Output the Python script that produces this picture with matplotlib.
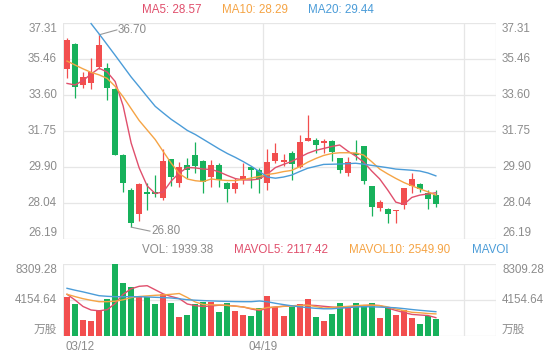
import numpy as np
import matplotlib
matplotlib.use('Agg')
import matplotlib.pyplot as plt
from matplotlib.transforms import Bbox, blended_transform_factory

plt.rcParams['font.family'] = ['Liberation Sans', 'Noto Sans CJK SC', 'DejaVu Sans']

# ---------------- data ----------------
opens = [34.93, 36.23, 34.12, 34.24, 35.07, 34.98, 33.91, 30.51, 28.71, 27.48,
         28.59, 28.63, 28.29, 30.29, 29.06, 30.00, 30.51, 30.22, 29.40, 30.00,
         29.06, 28.75, 29.23, 29.88, 29.72, 29.06, 30.22, 30.17, 30.63, 29.90,
         31.25, 31.29, 31.11, 31.24, 30.34, 29.60, 30.60, 30.98, 28.92, 27.81,
         27.75, 27.61, 27.94, 28.92, 29.02, 28.57, 28.46]
closes = [36.43, 33.99, 34.51, 34.79, 36.18, 33.94, 30.54, 29.05, 27.00, 29.02,
          28.51, 28.51, 30.19, 29.37, 29.91, 29.74, 29.95, 29.14, 30.00, 29.23,
          28.75, 29.06, 29.43, 29.74, 29.28, 30.17, 30.60, 30.26, 30.05, 31.18,
          31.37, 31.03, 31.24, 30.68, 29.72, 30.14, 30.51, 29.20, 27.82, 28.11,
          27.46, 27.68, 28.82, 29.26, 28.76, 28.23, 27.97]
highs = [36.54, 36.26, 34.79, 35.49, 36.70, 35.23, 33.96, 30.55, 28.80, 29.05,
         29.07, 29.48, 30.80, 30.31, 30.17, 30.34, 31.20, 30.26, 30.26, 30.12,
         29.12, 29.31, 30.09, 29.90, 29.83, 30.81, 31.12, 30.57, 30.72, 31.54,
         32.57, 31.39, 31.32, 31.29, 30.36, 30.43, 31.29, 31.00, 28.92, 28.21,
         27.79, 27.68, 28.82, 29.57, 29.09, 28.69, 28.71]
lows = [34.48, 33.45, 33.96, 33.91, 34.94, 33.35, 30.51, 28.63, 26.80, 27.12,
        27.68, 28.35, 28.20, 28.92, 28.85, 29.31, 29.57, 28.54, 28.88, 28.88,
        28.11, 28.54, 29.02, 28.80, 28.54, 28.71, 30.09, 29.95, 29.23, 29.85,
        31.25, 30.60, 30.62, 30.23, 29.59, 29.43, 30.26, 29.02, 27.35, 27.63,
        26.99, 27.03, 27.73, 28.54, 28.61, 27.72, 27.84]
ma5 = [34.20, 34.12, 34.35, 34.68, 34.98, 34.79, 34.30, 33.04, 31.13, 29.85,
       28.92, 28.53, 28.61, 29.18, 29.59, 29.87, 29.85, 29.79, 29.77, 29.64,
       29.46, 29.30, 29.23, 29.23, 29.28, 29.54, 29.87, 30.03, 30.18, 30.39,
       30.60, 30.75, 30.85, 30.95, 31.03, 30.72, 30.46, 30.15, 29.69, 29.28,
       28.71, 28.09, 27.97, 28.33, 28.45, 28.51, 28.57]
ma10 = [35.35, 35.15, 34.95, 34.77, 34.64, 34.46, 34.05, 33.51, 32.90, 32.29,
        31.80, 31.31, 30.69, 30.09, 29.56, 29.28, 29.19, 29.15, 29.28, 29.23,
        29.20, 29.20, 29.25, 29.33, 29.41, 29.51, 29.57, 29.66, 29.72, 29.91,
        30.14, 30.33, 30.49, 30.59, 30.63, 30.63, 30.62, 30.51, 30.17, 29.79,
        29.54, 29.31, 29.10, 28.93, 28.77, 28.62, 28.45]
ma20 = [np.nan, np.nan, np.nan, 37.28, 36.75, 36.20, 35.65, 35.09, 34.53, 34.03,
        33.52, 33.02, 32.68, 32.35, 32.07, 31.78, 31.57, 31.32, 31.07, 30.82,
        30.59, 30.39, 30.17, 29.93, 29.66, 29.38, 29.32, 29.38, 29.48, 29.66,
        29.83, 29.93, 30.03, 30.04, 30.05, 30.07, 30.09, 30.04, 29.98, 29.92,
        29.86, 29.79, 29.76, 29.73, 29.69, 29.59, 29.44]
volumes = [4536, 3693, 1847, 1731, 3001, 4270, 8309.28, 6152, 5690, 4616,
           4536, 3693, 4847, 3770, 2154, 2424, 3655, 3963, 3963, 2808,
           3770, 2885, 2424, 2270, 3270, 4616, 3385, 2308, 3385, 3693,
           4270, 2154, 1770, 2539, 3770, 3308, 3770, 3578, 3770, 2039,
           3193, 2424, 3001, 2116, 1347, 2347, 1939.38]
mavol5 = [4813, 4155, 3405, 3001, 2908, 3035, 3751, 4813, 5447, 5736,
          5805, 5332, 4859, 4559, 4316, 3693, 3508, 3405, 3462, 3555,
          3532, 3451, 3347, 3116, 2943, 3231, 3347, 3439, 3485, 3532,
          3566, 3520, 3428, 3347, 3289, 3301, 3428, 3508, 3555, 3508,
          3231, 2954, 2712, 2493, 2424, 2366, 2117.42]
mavol10 = [4813, 4547, 4305, 4120, 3959, 3959, 4016, 4178, 4432, 4559,
           4628, 4697, 4743, 4813, 4905, 4443, 3924, 3635, 3601, 3578,
           3532, 3439, 3347, 3174, 3058, 3289, 3347, 3416, 3474, 3508,
           3566, 3405, 3220, 3289, 3358, 3416, 3497, 3555, 3566, 3508,
           3358, 3116, 2931, 2735, 2680, 2600, 2549.90]
mavol20 = [5505, 5286, 5090, 4870, 4651, 4582, 4536, 4536, 4536, 4536,
           4501, 4466, 4432, 4386, 4293, 4189, 4132, 4085, 4051, 4016,
           3993, 3970, 3959, 3959, 4039, 3947, 3774, 3624, 3485, 3370,
           3278, 3197, 3139, 3139, 3208, 3278, 3347, 3381, 3370, 3335,
           3301, 3255, 3162, 3058, 2966, 2885, 2804]
price_ticks = [26.19, 28.04, 29.90, 31.75, 33.60, 35.46, 37.31]
vol_ticks = [0, 4154.64, 8309.28]
vol_tick_labels = ['万股', '4154.64', '8309.28']
date_labels = ['03/12', '04/19']
date_positions = [0, 25]
n_slots = 54
legend_ma = ['MA5: 28.57', 'MA10: 28.29', 'MA20: 29.44']
legend_vol = ['VOL: 1939.38', 'MAVOL5: 2117.42', 'MAVOL10: 2549.90', 'MAVOL20: 2804.11']

# ---------------- style ----------------
RED = '#f24e4e'
GREEN = '#17b15b'
C_MA5 = '#e04f6c'
C_MA10 = '#f5a445'
C_MA20 = '#4b9cd8'
GRID = '#e6e6e6'
TXT = '#8c8c8c'
FS = 8.4

W, H = 560, 360
fig = plt.figure(figsize=(W / 100, H / 100), dpi=100)
L, R = 63, 496


def rect(top, bottom):
    return [L / W, 1 - bottom / H, (R - L) / W, (bottom - top) / H]


ax = fig.add_axes(rect(23, 239))
axv = fig.add_axes(rect(264, 336))

x = np.arange(len(closes))
o = np.array(opens); c = np.array(closes)
up = c >= o
cols = [RED if u else GREEN for u in up]

for a in (ax, axv):
    a.set_xlim(-0.5, n_slots - 0.5)
    a.set_axis_off()
    for b in (-0.5, 24.5, 49.5, n_slots - 0.5):
        a.axvline(b, color=GRID, lw=0.9, zorder=0)

ax.set_ylim(price_ticks[0], price_ticks[-1])
axv.set_ylim(vol_ticks[0], vol_ticks[-1])

for t in price_ticks:
    ax.axhline(t, color=GRID, lw=0.9, zorder=0)
for t in vol_ticks:
    axv.axhline(t, color=GRID, lw=0.9, zorder=0)

# candles
ax.vlines(x, lows, highs, colors=cols, lw=0.9, zorder=2)
ax.bar(x, np.maximum(np.abs(c - o), 0.03), bottom=np.minimum(o, c), width=0.75,
       color=cols, lw=0, zorder=3)
ax.plot(x, ma5, color=C_MA5, lw=1.0, zorder=4)
ax.plot(x, ma10, color=C_MA10, lw=1.0, zorder=4)
ax.plot(x, ma20, color=C_MA20, lw=1.0, zorder=4, clip_on=False)

# volume
axv.bar(x, volumes, width=0.75, color=cols, lw=0, zorder=2)
axv.plot(x, mavol5, color=C_MA5, lw=1.0, zorder=4)
axv.plot(x, mavol10, color=C_MA10, lw=1.0, zorder=4)
axv.plot(x, mavol20, color=C_MA20, lw=1.0, zorder=4)

# y labels on both sides
pw = R - L
for a, ticks, labels in ((ax, price_ticks, [f'{t:.2f}' for t in price_ticks]),
                         (axv, vol_ticks, vol_tick_labels)):
    tr = blended_transform_factory(a.transAxes, a.transData)
    for i, (t, lab) in enumerate(zip(ticks, labels)):
        va = 'bottom' if i == 0 else ('top' if i == len(ticks) - 1 else 'center')
        for xx, ha in ((-6 / pw, 'right'), (1 + 6 / pw, 'left')):
            a.text(xx, t, lab, transform=tr, ha=ha, va=va, fontsize=FS, color=TXT,
                   clip_on=False)

# high / low markers
ax.annotate('', xy=(4, 36.70), xytext=(18, 5), textcoords='offset pixels',
            arrowprops=dict(arrowstyle='-', color='#999999', lw=0.8,
                            shrinkA=0, shrinkB=0))
ax.annotate('36.70', xy=(4, 36.70), xytext=(19, 5), textcoords='offset pixels',
            ha='left', va='center', fontsize=FS, color=TXT)
ax.annotate('', xy=(8, 26.80), xytext=(19, -4), textcoords='offset pixels',
            arrowprops=dict(arrowstyle='-', color='#999999', lw=0.8,
                            shrinkA=0, shrinkB=0))
ax.annotate('26.80', xy=(8, 26.80), xytext=(20, -4), textcoords='offset pixels',
            ha='left', va='center', fontsize=FS, color=TXT)

# date labels
trx = blended_transform_factory(axv.transData, fig.transFigure)
for pos, lab in zip(date_positions, date_labels):
    if pos == 0:
        fig.text((L + 2) / W, 1 - 347 / H, lab, ha='left', va='center',
                 fontsize=FS, color=TXT)
    else:
        fig.text(pos - 0.5, 1 - 347 / H, lab, transform=trx, ha='center',
                 va='center', fontsize=FS, color=TXT)

# legends
for xp, lab, col in zip((142, 222, 308), legend_ma, (C_MA5, C_MA10, C_MA20)):
    fig.text(xp / W, 1 - 10 / H, lab, ha='left', va='center', fontsize=FS, color=col)
clip = Bbox.from_extents(0, 0, 508, H)
for xp, lab, col in zip((142, 234, 349, 472), legend_vol, (TXT, C_MA5, C_MA10, C_MA20)):
    t = fig.text(xp / W, 1 - 250 / H, lab, ha='left', va='center', fontsize=FS, color=col)
    t.set_clip_box(clip)
    t.set_clip_on(True)

fig.savefig('out.png', dpi=100, facecolor='white')
